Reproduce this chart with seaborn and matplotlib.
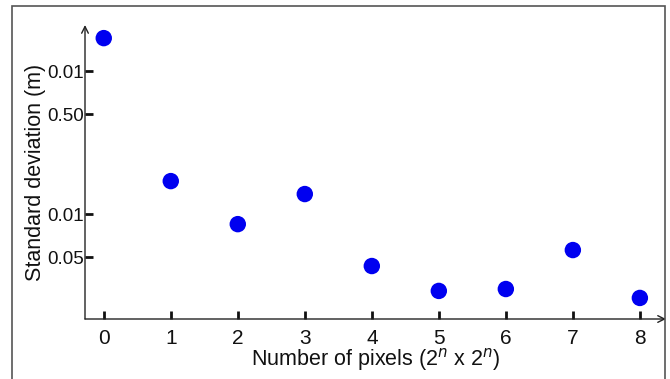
import matplotlib
matplotlib.use("Agg")
import matplotlib.pyplot as plt
import seaborn as sns
import pandas as pd
from matplotlib.patches import Rectangle

# Data
n_values = [0, 1, 2, 3, 4, 5, 6, 7, 8]
std_dev = [0.170, 0.0170, 0.0085, 0.0138, 0.00433, 0.0029, 0.00299, 0.0056, 0.00259]
y_tick_values = [0.1, 0.05, 0.01, 0.005]
y_tick_labels = ["0.01", "0.50", "0.01", "0.05"]
x_tick_labels = ["0", "1", "2", "3", "4", "5", "6", "7", "8"]

df = pd.DataFrame({"n": n_values, "std": std_dev})

sns.set_theme(style="white")
plt.rcParams["font.family"] = ["Liberation Sans", "DejaVu Sans"]

fig = plt.figure(figsize=(6.7, 3.79), dpi=100)
ax = fig.add_axes([85/670, 1-319/379, (666-85)/670, (319-25)/379])

sns.scatterplot(data=df, x="n", y="std", ax=ax, color="#0000f0", s=140,
                edgecolor="none", legend=False, zorder=3)

ax.set_yscale("log")
ax.set_ylim(0.001845, 0.21)
ax.set_xlim(-0.28, 8.39)

ax.set_yticks(y_tick_values)
ax.set_yticklabels(y_tick_labels)
ax.minorticks_off()
ax.set_xticks(n_values)
ax.set_xticklabels(x_tick_labels)

for s in ax.spines.values():
    s.set_visible(False)

ax.tick_params(axis="both", direction="in", length=6, width=2, color="#111111",
               labelcolor="#111111", left=True, bottom=True)
ax.tick_params(axis="x", labelsize=15, pad=7)
ax.tick_params(axis="y", labelsize=13.5, pad=0.5)

# axes with arrows
ax.annotate("", xy=(0, 1), xytext=(0, 0), xycoords="axes fraction",
            arrowprops=dict(arrowstyle="->", color="#222222", lw=1.0, shrinkA=0, shrinkB=0))
ax.annotate("", xy=(1, 0), xytext=(0, 0), xycoords="axes fraction",
            arrowprops=dict(arrowstyle="->", color="#222222", lw=1.0, shrinkA=0, shrinkB=0))

ax.set_ylabel("Standard deviation (m)", fontsize=15.5, color="#111111", labelpad=1)
ax.set_xlabel(r"Number of pixels (2$^{n}$ x 2$^{n}$)", fontsize=15.5, color="#111111", labelpad=-1)

# figure frame
fig.patches.append(Rectangle((12/670, -0.05), (665-12)/670, 1.05 - 6/379,
                             transform=fig.transFigure, fill=False,
                             edgecolor="#555555", lw=1.2))

fig.savefig("out.png", dpi=100)
